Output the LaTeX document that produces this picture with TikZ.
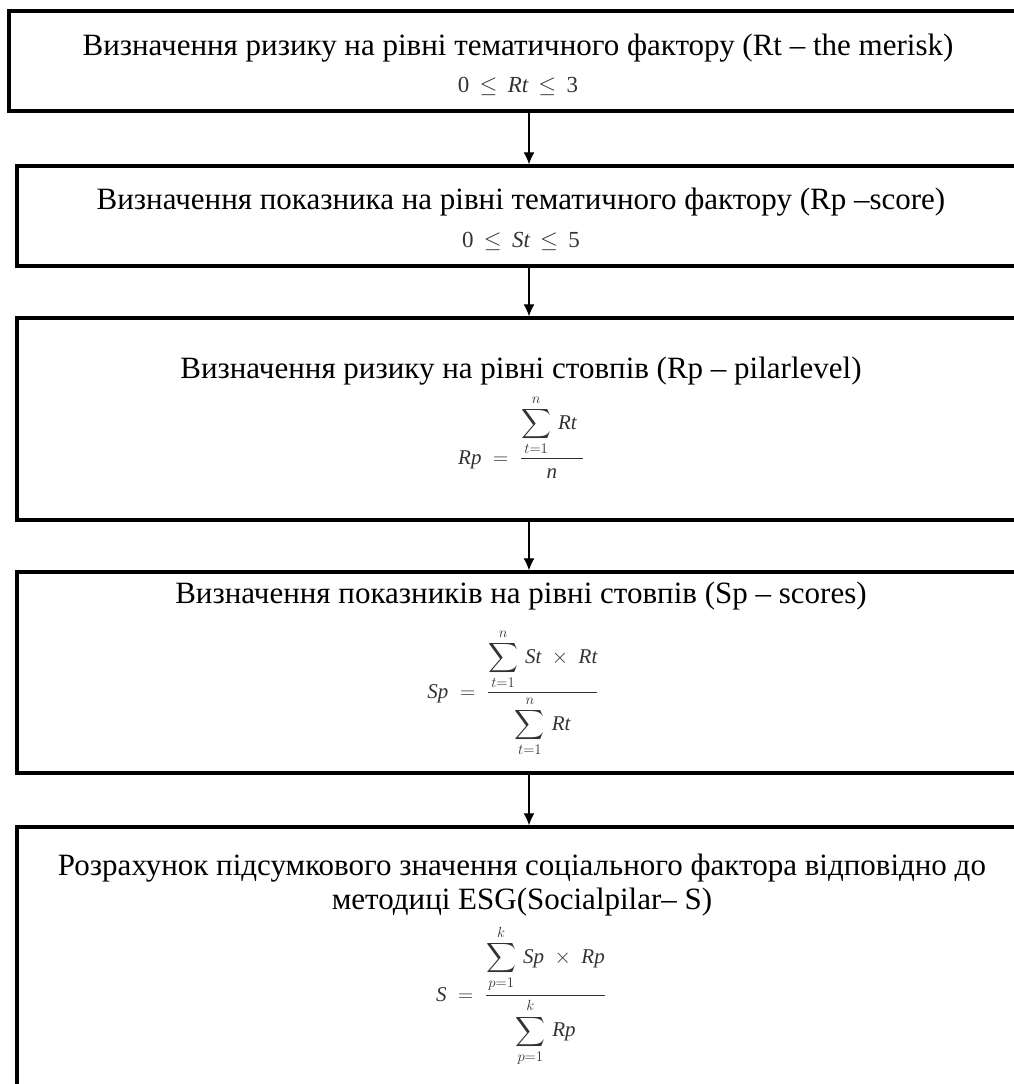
\RequirePackage{fix-cm}
\documentclass[tikz,border=0pt]{standalone}
\usepackage{amsmath}
\usepackage{fontspec}
\setmainfont{Liberation Serif}
\usetikzlibrary{arrows.meta,positioning}

\tikzset{
  stepbox/.style={draw, line width=3.5pt, rectangle, inner sep=0pt},
  steptitle/.style={font=\fontsize{31}{35}\selectfont, anchor=base, align=center, inner sep=0pt},
  formula/.style={font=\fontsize{21}{25}\selectfont, anchor=base, inner sep=0pt, text=black!80},
  flow/.style={->, line width=1.2pt},
  >={Latex[length=12pt,width=11pt]}
}
\newcommand{\vr}[1]{\textit{#1}}

\begin{document}
\begin{tikzpicture}[x=1pt,y=-1pt]
    \useasboundingbox (0,0) rectangle (1014,1084);
    \clip (0,0) rectangle (1014,1084);

    % Draw the five steps (frames run past the right edge)
    \node[stepbox, minimum width=1040pt, minimum height=100pt] (b1) at (529,61) {};
    \node[stepbox, minimum width=1024pt, minimum height=100pt] (b2) at (529,216) {};
    \node[stepbox, minimum width=1024pt, minimum height=202pt] (b3) at (529,419) {};
    \node[stepbox, minimum width=1024pt, minimum height=201pt] (b4) at (529,672.5) {};
    \node[stepbox, minimum width=1024pt, minimum height=320pt] (b5) at (529,987) {};

    % Step 1: risk of the thematic factor
    \node[steptitle] (t1) at (518,55) {Визначення ризику на рівні тематичного фактору (Rt – the merisk)};
    \node[formula, font=\fontsize{23}{27}\selectfont] (f1) at (518,92) {$\text{0} \,\le\, \vr{Rt} \,\le\, \text{3}$};

    % Step 2: score of the thematic factor
    \node[steptitle] (t2) at (521,209) {Визначення показника на рівні тематичного фактору (Rp –score)};
    \node[formula, font=\fontsize{23}{27}\selectfont] (f2) at (521,247) {$\text{0} \,\le\, \vr{St} \,\le\, \text{5}$};

    % Step 3: pillar risk
    \node[steptitle] (t3) at (521,378) {Визначення ризику на рівні стовпів (Rp – pilarlevel)};
    \node[formula] (f3) at (521,464) {$\displaystyle \vr{Rp} \;=\; \frac{\displaystyle\sum_{t=1}^{n} \,\vr{Rt}\;}{\vr{n}}$};

    % Step 4: pillar scores
    \node[steptitle] (t4) at (521,603) {Визначення показників на рівні стовпів (Sp – scores)};
    \node[formula] (f4) at (513,698) {$\displaystyle \vr{Sp} \;=\; \frac{\displaystyle\sum_{t=1}^{n} \,\vr{St} \;\times\; \vr{Rt}}{\displaystyle\sum_{t=1}^{n} \,\vr{Rt}}$};

    % Step 5: final social pillar value
    \node[steptitle] (t5a) at (522,875) {Розрахунок підсумкового значення соціального фактора відповідно до};
    \node[steptitle] (t5b) at (522,909) {методиці ESG(Socialpilar– S)};
    \node[formula] (f5) at (521,1001) {$\displaystyle \vr{S} \;=\; \frac{\displaystyle\sum_{p=1}^{k} \,\vr{Sp} \;\times\; \vr{Rp}}{\displaystyle\sum_{p=1}^{k} \,\vr{Rp}}$};

    % Arrows between the steps
    \draw[flow] (b1.south) -- (b2.north);
    \draw[flow] (b2.south) -- (b3.north);
    \draw[flow] (b3.south) -- (b4.north);
    \draw[flow] (b4.south) -- (b5.north);
\end{tikzpicture}
\end{document}
